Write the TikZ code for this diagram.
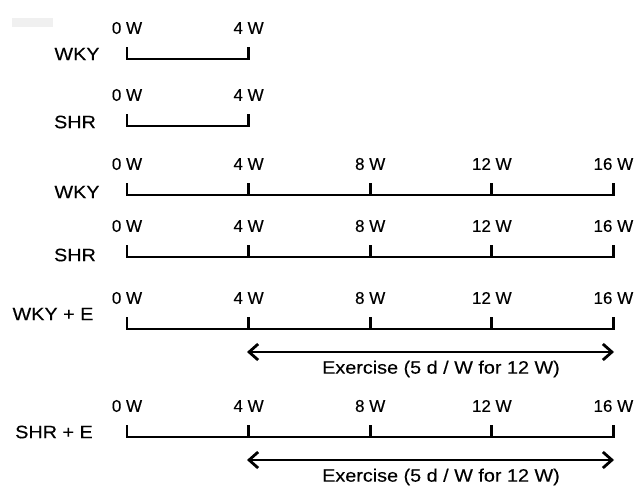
\documentclass[tikz,border=0pt]{standalone}
\usepackage{fontspec}
\setmainfont{Liberation Sans}
\newfontfamily\widefont{Liberation Sans}[FakeStretch=1.1,FakeBold=0.3]
\newfontfamily\weekfont{Liberation Sans}[FakeBold=0.3]
\usepackage{tikz}
\usetikzlibrary{arrows.meta,positioning}

\tikzset{
  wlab/.style={font=\weekfont\fontsize{17}{20}\selectfont, inner sep=0pt},
  grp/.style={font=\widefont\fontsize{18}{21}\selectfont, inner sep=0pt},
  tline/.style={line width=2.8pt, line cap=rect},
  exarrow/.style={line width=2.8pt, {Straight Barb[length=9pt,width=16pt]}-{Straight Barb[length=9pt,width=16pt]}}
}

\begin{document}
\begin{tikzpicture}[x=1pt,y=-1pt]
\useasboundingbox (0,0) rectangle (644,487);

% faint mark, top left
\fill[black!6] (12,18) rectangle (53,27);

% Timelines: row / line y / group / label x / label y / last week
\foreach \r/\y/\g/\gx/\gy/\last in {1/59/WKY/77/54/4, 2/126/SHR/75/122/4,
    3/195/WKY/77/192/16, 4/257/SHR/75/255/16,
    5/329/WKY + E/53/314/16, 6/437/SHR + E/54/432/16} {
  \node[grp] (g\r) at (\gx,\gy) {\g};
  \foreach \w in {0,4,...,\last} {
    \coordinate (c\r-\w) at (127+\w*30.4,\y);
    \node[wlab] (l\r-\w) at (127+\w*30.4,\y-31) {\w\ W};
    \draw[tline] (c\r-\w) -- ++(0,-11);
  }
  \draw[tline] (c\r-0) -- (c\r-\last);
}

% Exercise periods
\coordinate (a5s) at (247,352);
\coordinate (a5e) at (614,352);
\draw[exarrow] (a5s) -- (a5e);
\node[grp] (ex5) at (441,369) {Exercise (5 d / W for 12 W)};

\coordinate (a6s) at (247,460);
\coordinate (a6e) at (614,460);
\draw[exarrow] (a6s) -- (a6e);
\node[grp] (ex6) at (441,477) {Exercise (5 d / W for 12 W)};
\end{tikzpicture}
\end{document}
